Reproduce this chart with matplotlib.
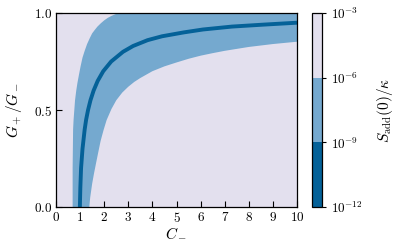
import matplotlib
matplotlib.use("Agg")
import matplotlib.pyplot as plt
import numpy as np
from matplotlib.colors import ListedColormap, BoundaryNorm
from matplotlib.cm import ScalarMappable

plt.rcParams['font.family'] = 'serif'
plt.rcParams['font.serif'] = ['cmr10', 'DejaVu Serif']
plt.rcParams['mathtext.fontset'] = 'cm'
plt.rcParams['axes.formatter.use_mathtext'] = True
plt.rcParams['font.size'] = 9.5

# colour levels of S_add(0)/kappa
levels = [1e-12, 1e-9, 1e-6, 1e-3]
level_labels = [r'$10^{-12}$', r'$10^{-9}$', r'$10^{-6}$', r'$10^{-3}$']

# left/upper edge of the 1e-9..1e-6 band (C_-, G+/G-)
hi_C = [0.69, 0.69, 0.70, 0.71, 0.73, 0.76, 0.79, 0.84, 0.89, 0.95, 1.02, 1.10, 1.19,
        1.29, 1.40, 1.50, 1.61, 1.72, 1.86, 2.00, 2.15, 2.30, 2.45, 2.60]
hi_G = [0.00, 0.20, 0.30, 0.40, 0.45, 0.50, 0.55, 0.60, 0.64, 0.68, 0.725, 0.77, 0.805,
        0.84, 0.87, 0.895, 0.913, 0.93, 0.947, 0.962, 0.975, 0.985, 0.993, 1.00]

# right/lower edge of the 1e-9..1e-6 band
lo_C = [1.38, 1.42, 1.50, 1.58, 1.66, 1.75, 1.85, 1.97, 2.10, 2.30, 2.50, 2.75, 3.00,
        3.25, 3.50, 4.00, 4.50, 5.00, 5.50, 6.00, 6.50, 7.00, 8.00, 9.00, 10.0]
lo_G = [0.00, 0.05, 0.12, 0.175, 0.225, 0.28, 0.34, 0.395, 0.448, 0.505, 0.55, 0.59, 0.62,
        0.645, 0.665, 0.70, 0.725, 0.745, 0.764, 0.78, 0.793, 0.805, 0.825, 0.84, 0.852]

# centre of the <1e-9 band
dark_C = [0.99, 1.01, 1.04, 1.10, 1.19, 1.25, 1.33, 1.43, 1.56, 1.73, 1.96, 2.29, 2.78,
          3.20, 3.80, 4.40, 5.30, 6.10, 7.30, 8.60, 10.0]
dark_G = [0.00, 0.10, 0.20, 0.30, 0.40, 0.45, 0.50, 0.55, 0.60, 0.65, 0.70, 0.75, 0.80,
          0.83, 0.86, 0.88, 0.90, 0.915, 0.93, 0.94, 0.95]

x_ticks = list(range(0, 11))
y_ticks = [0.0, 0.5, 1.0]

cols = plt.get_cmap('PuBu_r')([1/6, 0.5, 5/6])
cmap = ListedColormap(cols)
norm = BoundaryNorm(levels, 3)

fig = plt.figure(figsize=(3.98, 2.46), dpi=100)
ax = fig.add_axes([56/398, 39/246, 241/398, 194/246])
cax = fig.add_axes([312/398, 39/246, 10/398, 194/246])

xmin, xmax, ymin, ymax = 0, 10, 0, 1
ax.set_facecolor(cols[2])
poly_x = list(hi_C) + [xmax] + list(lo_C[::-1])
poly_y = list(hi_G) + [ymax] + list(lo_G[::-1])
ax.fill(poly_x, poly_y, color=cols[1], lw=0)
ax.plot(dark_C, dark_G, color=cols[0], lw=2.8, solid_capstyle='butt')

ax.set_xlim(xmin, xmax)
ax.set_ylim(ymin, ymax)
ax.set_xticks(x_ticks)
ax.set_yticks(y_ticks)
ax.tick_params(direction='in', length=4, width=0.8, labelsize=9.5, pad=3)
ax.set_xlabel(r'$C_-$', fontsize=11, labelpad=1)
ax.set_ylabel(r'$G_+/G_-$', fontsize=11, labelpad=7)
for s in ax.spines.values():
    s.set_linewidth(0.9)

sm = ScalarMappable(norm=norm, cmap=cmap)
cb = fig.colorbar(sm, cax=cax, ticks=levels)
cb.ax.set_yticklabels(level_labels)
cb.ax.tick_params(length=3, width=0.8, labelsize=9.5)
cb.outline.set_linewidth(0.9)
cb.set_label(r'$S_{\mathrm{add}}(0)/\kappa$', fontsize=11, labelpad=9)

fig.savefig('out.png', dpi=100)
